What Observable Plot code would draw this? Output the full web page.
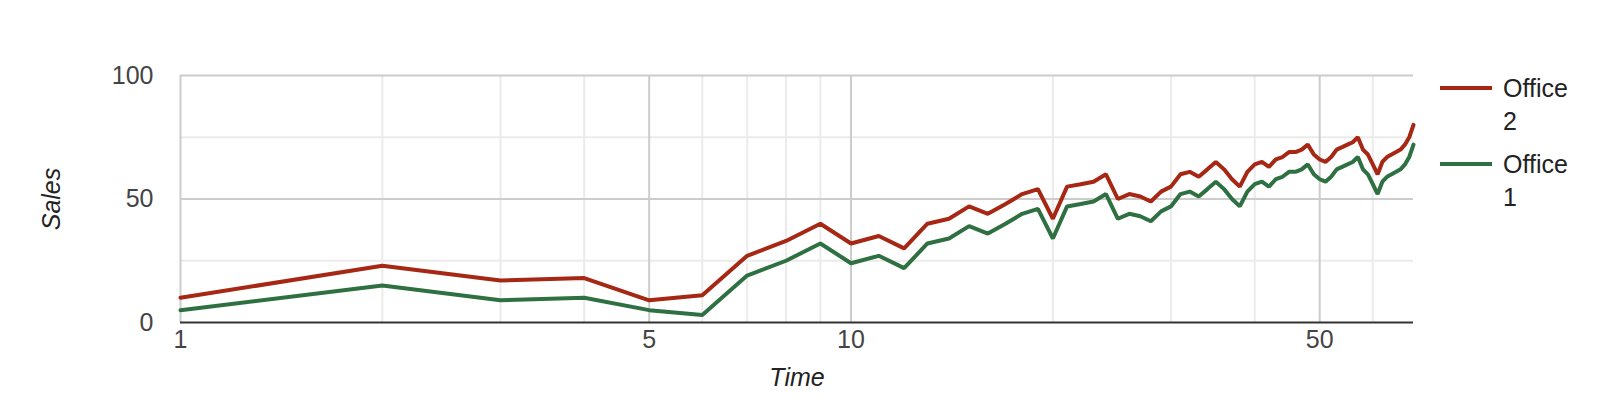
<!DOCTYPE html>
<html>
<head>
<meta charset="utf-8">
<script src="https://cdn.jsdelivr.net/npm/d3@7"></script>
<script src="https://cdn.jsdelivr.net/npm/@observablehq/plot@0.6"></script>
<style>
  html, body { margin: 0; padding: 0; background: #fff; }
  #wrap { position: relative; width: 1614px; height: 408px; font-family: "Liberation Sans", Arial, sans-serif; }
  #wrap svg { display: block; }
  g[aria-label="y-axis label"] text, g[aria-label="x-axis label"] text { font-style: italic; fill: #222; }
  g[aria-label="y-axis tick label"] text, g[aria-label="x-axis tick label"] text { fill: #444; }
  .legend { position: absolute; left: 1440px; font-size: 25px; line-height: 33px; color: #222; }
  .legend .swatch { position: absolute; left: 0; width: 52px; height: 4px; }
  .legend .lab { position: absolute; left: 63px; width: 85px; }
</style>
</head>
<body>
<div id="wrap"></div>
<script>
// Data
const time = [1,2,3,4,5,6,7,8,9,10,11,12,13,14,15,16,17,18,19,20,21,22,23,24,25,26,27,28,29,30,31,32,33,34,35,36,37,38,39,40,41,42,43,44,45,46,47,48,49,50,51,52,53,54,55,56,57,58,59,60,61,62,63,64,65,66,67,68,69];
const office2 = [10,23,17,18,9,11,27,33,40,32,35,30,40,42,47,44,48,52,54,42,55,56,57,60,50,52,51,49,53,55,60,61,59,62,65,62,58,55,61,64,65,63,66,67,69,69,70,72,68,66,65,67,70,71,72,73,75,70,68,64,60,65,67,68,69,70,72,75,80];
const office1 = [5,15,9,10,5,3,19,25,32,24,27,22,32,34,39,36,40,44,46,34,47,48,49,52,42,44,43,41,45,47,52,53,51,54,57,54,50,47,53,56,57,55,58,59,61,61,62,64,60,58,57,59,62,63,64,65,67,62,60,56,52,57,59,60,61,62,64,67,72];
const seriesNames = ["Office 2", "Office 1"];
const seriesColors = ["#a52714", "#2e7041"];
const xMajorTicks = [1, 5, 10, 50];
const xMinorTicks = [2, 3, 4, 6, 7, 8, 9, 20, 30, 40, 60];
const yMajorTicks = [0, 50, 100];
const yMinorTicks = [25, 75];

const rows = [];
time.forEach((t, i) => {
  rows.push({time: t, sales: office2[i], series: seriesNames[0]});
  rows.push({time: t, sales: office1[i], series: seriesNames[1]});
});

const chart = Plot.plot({
  width: 1614,
  height: 408,
  marginLeft: 180,
  marginRight: 201,
  marginTop: 75,
  marginBottom: 86,
  style: {fontFamily: "'Liberation Sans', Arial, sans-serif", fontSize: "25px", background: "#fff", overflow: "visible"},
  x: {type: "log", domain: [1, 69]},
  y: {domain: [0, 100]},
  color: {domain: seriesNames, range: seriesColors},
  marks: [
    Plot.ruleX(xMinorTicks, {stroke: "#ebebeb", strokeWidth: 2}),
    Plot.ruleY(yMinorTicks, {stroke: "#ebebeb", strokeWidth: 2}),
    Plot.ruleX(xMajorTicks, {stroke: "#cccccc", strokeWidth: 2}),
    Plot.ruleY(yMajorTicks.filter(d => d > 0), {stroke: "#cccccc", strokeWidth: 2}),
    Plot.axisY(yMajorTicks, {tickSize: 0, tickPadding: 27, tickFormat: d => String(d), label: "Sales", labelAnchor: "center", labelArrow: "none", labelOffset: 138}),
    Plot.axisX(xMajorTicks, {tickSize: 0, tickPadding: 8, tickFormat: d => String(d), label: "Time", labelAnchor: "center", labelArrow: "none", labelOffset: 63}),
    Plot.line(rows, {x: "time", y: "sales", z: "series", stroke: "series", strokeWidth: 4, strokeLinejoin: "miter"}),
    Plot.ruleY([0], {stroke: "#333333", strokeWidth: 2})
  ]
});

const wrap = document.getElementById("wrap");
wrap.appendChild(chart);

const legendTops = [72, 148];
seriesNames.forEach((name, i) => {
  const item = document.createElement("div");
  item.className = "legend";
  item.style.top = legendTops[i] + "px";
  const sw = document.createElement("div");
  sw.className = "swatch";
  sw.style.background = seriesColors[i];
  sw.style.top = "14px";
  const lab = document.createElement("div");
  lab.className = "lab";
  lab.textContent = name;
  item.appendChild(sw);
  item.appendChild(lab);
  wrap.appendChild(item);
});
</script>
</body>
</html>
